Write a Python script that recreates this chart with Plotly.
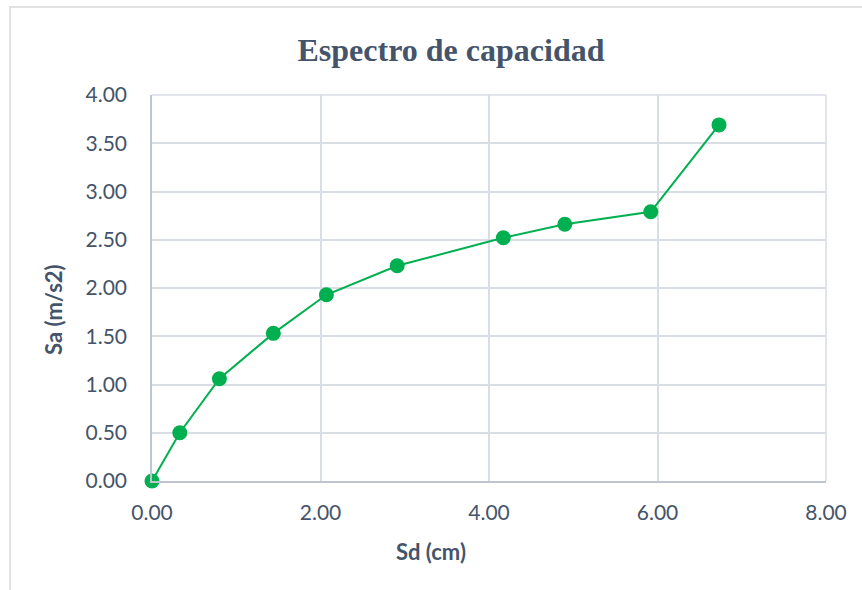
import plotly.graph_objects as go

# Capacity spectrum: spectral displacement (cm) vs spectral acceleration (m/s2)
sd_cm = [0.00, 0.33, 0.80, 1.44, 2.07, 2.91, 4.17, 4.90, 5.92, 6.73]
sa_ms2 = [0.00, 0.50, 1.06, 1.53, 1.93, 2.23, 2.52, 2.66, 2.79, 3.69]

x_ticks = [0, 2, 4, 6, 8]
y_ticks = [0, 0.5, 1.0, 1.5, 2.0, 2.5, 3.0, 3.5, 4.0]

W, H = 862, 590
L, R, T, B = 152, 36, 95, 109
PW, PH = W - L - R, H - T - B

text_color = "#44546A"
green = "#00B050"
grid_color = "#D9DDE4"


def px_x(px):
    return (px - L) / PW


def px_y(py):
    return (H - B - py) / PH


fig = go.Figure()
fig.add_trace(go.Scatter(
    x=sd_cm, y=sa_ms2,
    mode="lines+markers",
    line=dict(color=green, width=2),
    marker=dict(color=green, size=15),
    showlegend=False,
    cliponaxis=False,
))

fig.update_layout(
    width=W, height=H,
    margin=dict(l=L, r=R, t=T, b=B),
    paper_bgcolor="white",
    plot_bgcolor="white",
    title=dict(
        text="<b>Espectro de capacidad</b>",
        x=451 / W, xanchor="center",
        y=1 - 50 / H, yanchor="middle",
        font=dict(family="Liberation Serif", size=32, color=text_color),
    ),
    xaxis=dict(
        range=[0, 8], tickvals=x_ticks,
        ticktext=[f"{v:.2f}" for v in x_ticks],
        showgrid=True, gridcolor=grid_color, gridwidth=1.5,
        zeroline=False, showline=True, linecolor="#BFC5CF", linewidth=1.5,
        ticks="", ticklabelstandoff=12,
        tickfont=dict(family="Lato", size=21, color=text_color),
    ),
    yaxis=dict(
        range=[0, 4], tickvals=y_ticks,
        ticktext=[f"{v:.2f}" for v in y_ticks],
        showgrid=True, gridcolor=grid_color, gridwidth=1.5,
        zeroline=False, showline=True, linecolor="#BFC5CF", linewidth=1.5,
        ticks="", ticklabelstandoff=19,
        tickfont=dict(family="Lato", size=21, color=text_color),
    ),
    annotations=[
        dict(text="<b>Sd (cm)</b>", xref="paper", yref="paper",
             x=px_x(431), y=px_y(551), xanchor="center", yanchor="middle",
             showarrow=False,
             font=dict(family="Lato", size=22, color=text_color)),
        dict(text="<b>Sa (m/s2)</b>", xref="paper", yref="paper",
             x=px_x(53), y=px_y(310), xanchor="center", yanchor="middle",
             textangle=-90, showarrow=False,
             font=dict(family="Lato", size=22, color=text_color)),
    ],
    shapes=[
        # right edge of the plotting frame
        dict(type="line", xref="paper", yref="paper", x0=1, x1=1, y0=0, y1=1,
             line=dict(color=grid_color, width=1.5), layer="below"),
        # top edge of the plotting frame
        dict(type="line", xref="paper", yref="paper", x0=0, x1=1, y0=1, y1=1,
             line=dict(color=grid_color, width=1.5), layer="below"),
        # outer chart border
        dict(type="rect", xref="paper", yref="paper",
             x0=px_x(10), x1=px_x(880), y0=px_y(610), y1=px_y(7),
             line=dict(color="#D9D9D9", width=1.5), layer="below"),
    ],
)

fig.write_html("out.html")
